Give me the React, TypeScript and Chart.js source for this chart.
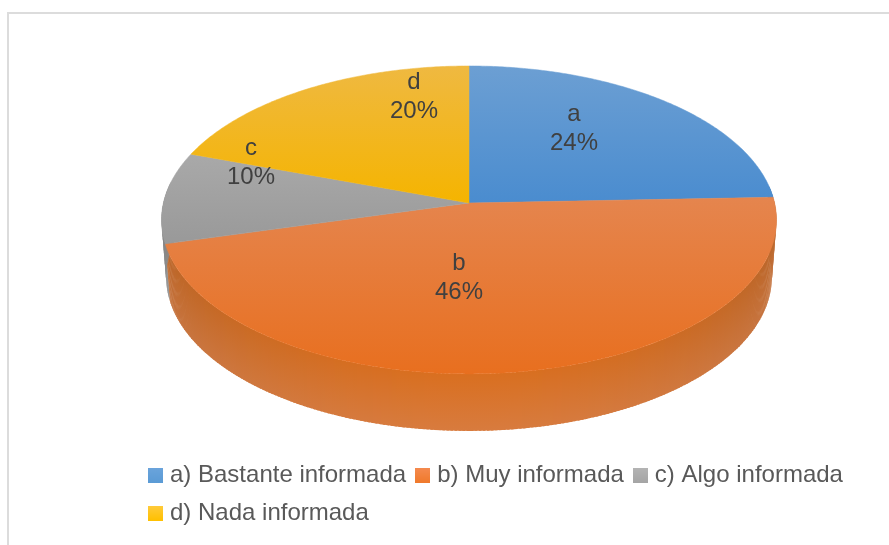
import React, { useEffect, useRef } from "react";
import { Chart, registerables } from "chart.js";

Chart.register(...registerables);

const categories = ["a) Bastante informada", "b) Muy informada", "c) Algo informada", "d) Nada informada"];
const sliceLetters = ["a", "b", "c", "d"];
const shares = [24.4, 46.4, 9.6, 19.6];
const baseColors = ["#5b9bd5", "#ed7d31", "#a5a5a5", "#ffc000"];
const faceTop = ["#6c9fd3", "#e5854e", "#a9a9a9", "#efb941"];
const faceBottom = ["#4a8ccf", "#e86f1f", "#999999", "#f5b400"];
const swatchTop = ["#6ba4dc", "#f58b50", "#b4b4b4", "#ffcb3c"];
const swatchBottom = ["#5b9bd5", "#f07a2c", "#a5a5a5", "#ffc000"];
const wallTopCentre = ["#3f6f9c", "#d96f20", "#7d7d7d", "#b08a10"];
const wallTopEdge = ["#3f6f9c", "#b8652a", "#7d7d7d", "#b08a10"];
const wallBottomCentre = ["#4a7cab", "#d87b3e", "#8a8a8a", "#c09a20"];
const wallBottomEdge = ["#4a7cab", "#c4733f", "#8a8a8a", "#c09a20"];
// Baselines of the two-line data labels, as offsets from the pie's apex.
const labelOffsets = [[105, -82], [-10, 67], [-218, -48.5], [-55, -114]];

// The camera: a tilted disc seen in perspective.
const APEX_X = 469, APEX_Y = 203, PERSP = 0.11, SCALE_X = 305.6, SCALE_Y = 152.1;
const DEPTH = 57, BOTTOM_SHRINK = 0.985;

const project = (theta: number) => {
  const u = Math.cos(theta), v = Math.sin(theta), w = 1 - PERSP * v;
  return { x: APEX_X + (SCALE_X * u) / w, y: APEX_Y + (SCALE_Y * v) / w, u, v };
};

const hex = (c: string) => [1, 3, 5].map((i) => parseInt(c.slice(i, i + 2), 16));
const mix = (a: string, b: string, t: number) => {
  const A = hex(a), B = hex(b);
  return `rgb(${A.map((p, i) => Math.round(p + (B[i] - p) * t)).join(",")})`;
};

const swatch = (top: string, bottom: string) => {
  const c = document.createElement("canvas");
  c.width = 15; c.height = 15;
  const g = c.getContext("2d")!;
  const lg = g.createLinearGradient(0, 0, 0, 15);
  lg.addColorStop(0, top); lg.addColorStop(1, bottom);
  g.fillStyle = lg; g.fillRect(0, 0, 15, 15);
  return c;
};

const pie3d = {
  id: "pie3d",
  beforeDatasetDraw(chart: any, args: any) {
    const ctx = chart.ctx as CanvasRenderingContext2D;
    const arcs = args.meta.data;
    ctx.save();
    // Walls first, only where the rim faces the viewer.
    arcs.forEach((arc: any, i: number) => {
      const step = 0.012;
      for (let t = arc.startAngle; t < arc.endAngle; t += step) {
        const end = Math.min(t + step * 1.6, arc.endAngle);
        const p = project(t), q = project(end);
        if (p.v < -0.12) continue;
        const f = p.u * p.u;
        const bx = (m: any) => APEX_X + (m.x - APEX_X) * BOTTOM_SHRINK;
        const g = ctx.createLinearGradient(0, p.y, 0, p.y + DEPTH);
        g.addColorStop(0, mix(wallTopCentre[i], wallTopEdge[i], f));
        g.addColorStop(1, mix(wallBottomCentre[i], wallBottomEdge[i], f));
        ctx.fillStyle = g;
        ctx.beginPath();
        ctx.moveTo(p.x, p.y);
        ctx.lineTo(q.x, q.y);
        ctx.lineTo(bx(q), q.y + DEPTH);
        ctx.lineTo(bx(p), p.y + DEPTH);
        ctx.closePath();
        ctx.fill();
      }
    });
    // Top faces.
    arcs.forEach((arc: any, i: number) => {
      const pts: any[] = [];
      const n = Math.ceil((arc.endAngle - arc.startAngle) / 0.01);
      for (let k = 0; k <= n; k++) pts.push(project(arc.startAngle + ((arc.endAngle - arc.startAngle) * k) / n));
      const ys = pts.map((p) => p.y).concat(APEX_Y);
      const g = ctx.createLinearGradient(0, Math.min(...ys), 0, Math.max(...ys));
      g.addColorStop(0, faceTop[i]);
      g.addColorStop(1, faceBottom[i]);
      ctx.fillStyle = g;
      ctx.strokeStyle = g;
      ctx.lineWidth = 0.5;
      ctx.beginPath();
      ctx.moveTo(APEX_X, APEX_Y);
      pts.forEach((p) => ctx.lineTo(p.x, p.y));
      ctx.closePath();
      ctx.fill();
      ctx.stroke();
    });
    ctx.restore();
    return false;
  },
  afterDatasetsDraw(chart: any) {
    const ctx = chart.ctx as CanvasRenderingContext2D;
    const total = shares.reduce((s, v) => s + v, 0);
    ctx.save();
    ctx.font = "24px 'Liberation Sans'";
    ctx.fillStyle = "#404040";
    ctx.textAlign = "center";
    ctx.textBaseline = "alphabetic";
    shares.forEach((v, i) => {
      const [dx, dy] = labelOffsets[i];
      ctx.fillText(sliceLetters[i], APEX_X + dx, APEX_Y + dy);
      ctx.fillText(`${Math.round((v / total) * 100)}%`, APEX_X + dx, APEX_Y + dy + 29);
    });
    ctx.restore();
  },
};

export default function App() {
  const ref = useRef<HTMLCanvasElement>(null);
  useEffect(() => {
    const swatches = swatchTop.map((t, i) => swatch(t, swatchBottom[i]));
    const chart = new Chart(ref.current!, {
      type: "pie",
      data: {
        labels: categories,
        datasets: [{ data: shares, backgroundColor: baseColors, borderWidth: 0 }],
      },
      options: {
        responsive: false,
        animation: false,
        events: [],
        layout: { padding: { left: 139, right: 30, top: 20, bottom: 10 } },
        plugins: {
          tooltip: { enabled: false },
          title: { display: false },
          legend: {
            position: "bottom",
            align: "start",
            labels: {
              usePointStyle: true,
              boxWidth: 5,
              padding: 14,
              color: "#595959",
              font: { family: "'Liberation Sans'", size: 24 },
              generateLabels: (c: any) =>
                (Chart as any).overrides.pie.plugins.legend.labels
                  .generateLabels(c)
                  .map((item: any, i: number) => ({ ...item, pointStyle: swatches[i] })),
            },
          },
        },
      } as any,
      plugins: [pie3d],
    });
    return () => chart.destroy();
  }, []);
  return (
    <div style={{ position: "fixed", left: 0, top: 0, width: 889, height: 545, overflow: "hidden", background: "#fff" }}>
      <div style={{ position: "absolute", left: 7, top: 12, width: 1000, height: 800, borderLeft: "2px solid #dcdcdc", borderTop: "2px solid #dcdcdc" }} />
      <canvas ref={ref} width={889} height={545} style={{ position: "absolute", left: 0, top: 0, display: "block" }} />
    </div>
  );
}
